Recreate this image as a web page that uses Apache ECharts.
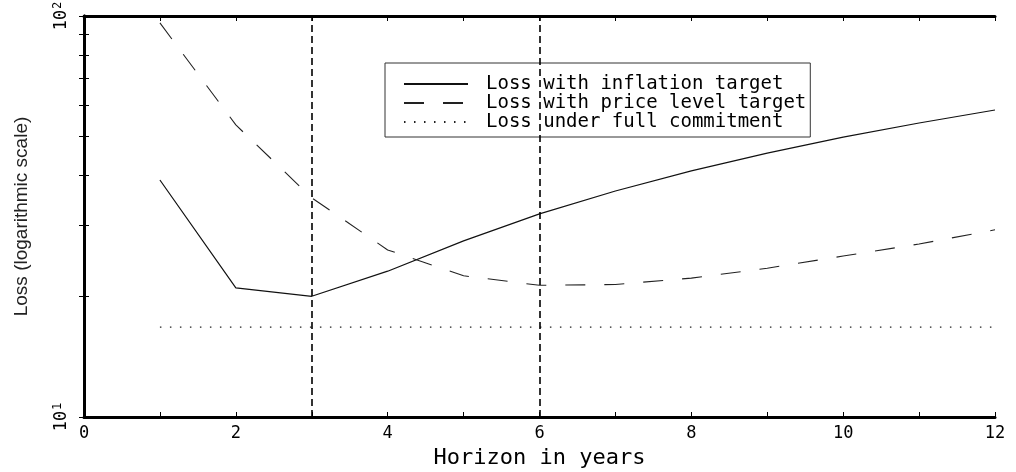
<!DOCTYPE html>
<html><head><meta charset="utf-8">
<script src="https://cdn.jsdelivr.net/npm/echarts@6/dist/echarts.min.js"></script>
<style>html,body{margin:0;padding:0;background:#fff}#c{width:1016px;height:472px}</style>
</head><body><div id="c"></div>
<script>
const horizon = [1,2,3,4,5,6,7,8,9,10,11,12];
const inflationLoss = [39.0, 21.0, 20.0, 23.1, 27.5, 32.1, 36.6, 41.1, 45.5, 49.9, 54.1, 58.3];
const priceLevelLoss = [96.1, 53.5, 35.2, 26.1, 22.5, 21.3, 21.4, 22.2, 23.5, 25.2, 27.0, 29.3];
const commitmentLoss = [16.75, 16.75, 16.75, 16.75, 16.75, 16.75, 16.75, 16.75, 16.75, 16.75, 16.75, 16.75];
const xTickLabels = [0,2,4,6,8,10,12];
const yMinorTicks = [10,20,30,40,50,60,70,80,90,100];
const yLabelValues = [10,100];
const markedHorizons = [3,6];
const seriesNames = ['Loss with inflation target','Loss with price level target','Loss under full commitment'];

const FONT = 'DejaVu Sans Mono';
const pair = (ys) => horizon.map((h,i)=>[h, ys[i]]);

const chart = echarts.init(document.getElementById('c'));
chart.setOption({
  animation:false,
  backgroundColor:'#fff',
  grid:{left:84,right:21,top:16,bottom:55,outerBoundsMode:'none',containLabel:false},
  legend:{
    orient:'vertical', left:385, top:63,
    data:seriesNames,
    itemWidth:64, itemHeight:13, itemGap:0,
    padding:[11.5,4,5.5,18],
    borderColor:'#333', borderWidth:1,
    itemStyle:{opacity:0},
    textStyle:{fontFamily:FONT,fontSize:19,color:'#000',padding:[0,0,0,13]}
  },
  xAxis:[{
    type:'value', min:0, max:12, interval:1,
    name:'Horizon in years', nameLocation:'middle', nameGap:30,
    nameTextStyle:{fontFamily:FONT,fontSize:22,color:'#000'},
    axisLine:{lineStyle:{color:'#000',width:3}},
    axisTick:{inside:true,length:5,lineStyle:{color:'#000',width:1}},
    axisLabel:{fontFamily:FONT,fontSize:17,color:'#000',margin:8,
      formatter:(v)=> xTickLabels.includes(v) ? String(v) : ''},
    splitLine:{show:false}
  },{
    type:'value', min:0, max:12, interval:1, position:'top',
    axisLine:{lineStyle:{color:'#000',width:3}},
    axisTick:{inside:true,length:5,lineStyle:{color:'#000',width:1}},
    axisLabel:{show:false}, splitLine:{show:false}
  }],
  yAxis:[{
    type:'log', logBase:10, min:10, max:100,
    name:'Loss (logarithmic scale)', nameLocation:'middle', nameGap:53,
    nameTextStyle:{fontFamily:'Liberation Sans',fontSize:19,color:'#222'},
    axisLine:{lineStyle:{color:'#000',width:3}},
    axisTick:{inside:true,length:5,customValues:yMinorTicks,lineStyle:{color:'#000',width:1}},
    axisLabel:{customValues:yLabelValues, rotate:90, margin:12,color:'#000',
      formatter:(v)=>'{b|10}{s|' + Math.round(Math.log10(v)) + '}',
      rich:{b:{fontFamily:FONT,fontSize:17,color:'#000'},
            s:{fontFamily:FONT,fontSize:12,color:'#000',padding:[0,0,8,1]}}},
    splitLine:{show:false}
  },{
    type:'log', logBase:10, min:10, max:100, position:'right',
    axisLine:{lineStyle:{color:'#000',width:3}},
    axisTick:{inside:true,length:5,customValues:yMinorTicks,lineStyle:{color:'#000',width:1}},
    axisLabel:{show:false}, splitLine:{show:false}
  }],
  series:[{
    name:seriesNames[0], type:'line', data:pair(inflationLoss), symbol:'none',
    lineStyle:{color:'#111',width:1.2,type:'solid'},
    markLine:{
      silent:true, symbol:['none','none'], label:{show:false},
      lineStyle:{color:'#000',width:1.6,type:[7,4]},
      data:markedHorizons.map(h=>({xAxis:h}))
    }
  },{
    name:seriesNames[1], type:'line', data:pair(priceLevelLoss), symbol:'none',
    lineStyle:{color:'#222',width:1.1,type:[20,19]}
  },{
    name:seriesNames[2], type:'line', data:pair(commitmentLoss), symbol:'none',
    lineStyle:{color:'#222',width:1.2,type:[1.5,8.5]}
  }]
});
</script>
</body></html>
